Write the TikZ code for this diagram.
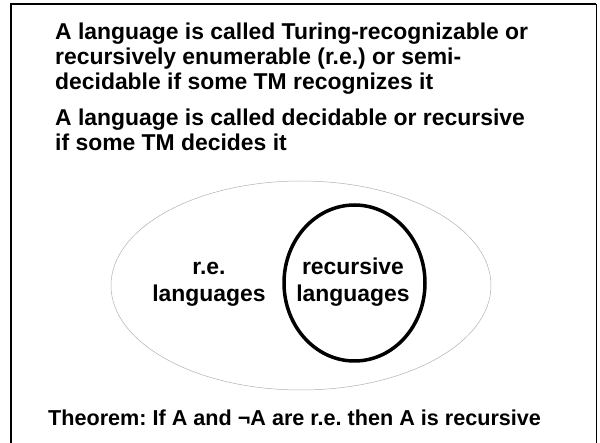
\documentclass[tikz,border=0pt]{standalone}
\usepackage{fontspec}
\setmainfont{Liberation Sans}
\frenchspacing
\begin{document}
\begin{tikzpicture}[x=1pt,y=-1pt,
  txt/.style={inner sep=0pt, font=\fontsize{22.9}{25}\selectfont\bfseries\frenchspacing},
  lines/.style={anchor=base west, txt},
  lbl/.style={anchor=base, txt}]
\useasboundingbox (0,0) rectangle (600,443);
\fill[white] (0,0) rectangle (600,443);
\begin{scope}
\clip (0,0) rectangle (600,443);
\draw[line width=2pt] (11,450) -- (11,4) -- (596,4);
\draw[line width=1pt] (596,4) -- (596,450);
\end{scope}
\node[lines] (p1a) at (55,40) {A language is called Turing-recognizable or};
\node[lines] (p1b) at (55,65) {recursively enumerable (r.e.) or semi-};
\node[lines] (p1c) at (55,90) {decidable if some TM recognizes it};
\node[lines] (p2a) at (55,126) {A language is called decidable or recursive};
\node[lines] (p2b) at (55,151) {if some TM decides it};
\draw[gray!60, line width=0.5pt] (301,285.5) ellipse [x radius=190, y radius=104.5];
\draw[line width=3.5pt] (354.5,283) ellipse [x radius=70.5, y radius=78];
\node[lbl] (re1) at (209,275) {r.e.};
\node[lbl] (re2) at (209,302) {languages};
\node[lbl] (rc1) at (353,275) {recursive};
\node[lbl] (rc2) at (353,302) {languages};
\node[lines, font=\fontsize{21.6}{25}\selectfont\bfseries] (thm) at (48,426) {Theorem: If A and ¬A are r.e. then A is recursive};
\end{tikzpicture}
\end{document}
